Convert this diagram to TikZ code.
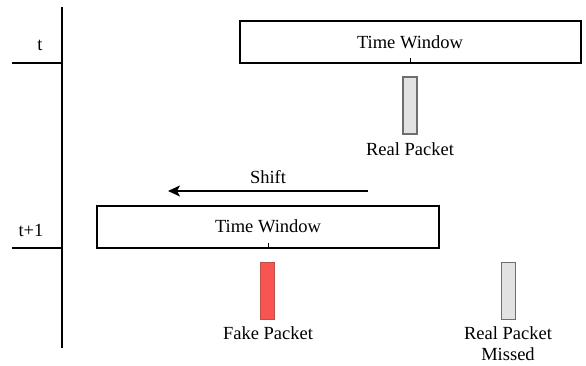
\documentclass[tikz,border=0pt]{standalone}
\usepackage{fontspec}
\setmainfont{Liberation Serif}
\newfontfamily\labelfont{Liberation Serif}
\usetikzlibrary{arrows.meta}
\definecolor{fakefill}{RGB}{248,84,80}
\definecolor{fakeline}{RGB}{190,80,75}
\definecolor{realfill}{RGB}{226,226,226}
\definecolor{realline}{RGB}{110,110,110}
\tikzset{
  lbl/.style={font=\labelfont\fontsize{18.5}{21}\selectfont, inner sep=0pt},
  window/.style={draw, line width=1.4pt, minimum width=#1, minimum height=42pt, inner sep=0pt},
  packet/.style={line width=1.1pt, minimum width=14pt, minimum height=57pt, inner sep=0pt},
  realpkt/.style={packet, draw=realline, fill=realfill},
  fakepkt/.style={packet, draw=fakeline, fill=fakefill},
  axis/.style={line width=1.3pt},
}
\begin{document}
\begin{tikzpicture}[x=1pt,y=-1pt]
\useasboundingbox (0,0) rectangle (586,366);
% time axis
\coordinate (axtop) at (62,7);
\coordinate (axbot) at (62,348);
\draw[axis] (axtop) -- (axbot);
\coordinate (t0a) at (12,63);
\coordinate (t0b) at (62,63);
\coordinate (t1a) at (12,248);
\coordinate (t1b) at (62,248);
\draw[axis] (t0a) -- (t0b);
\draw[axis] (t1a) -- (t1b);
\node[lbl] (tlab) at (40,45) {t};
\node[lbl] (t1lab) at (31,230) {t+1};

% window at time t
\node[window=341pt] (win0) at (410.5,42) {};
\node[lbl] (win0txt) at (410,42) {Time Window};
\coordinate (win0tick) at ([yshift=6pt]win0.south);
\draw[line width=0.9pt] (win0.south) -- (win0tick);
\node[realpkt] (real0) at (410,105.5) {};
\node[lbl] (real0txt) at (410,149) {Real Packet};

% shift
\coordinate (shiftfrom) at (368,191);
\coordinate (shiftto) at (168,191);
\draw[line width=1.3pt, -{Stealth[length=12pt,width=11pt,inset=3pt]}] (shiftfrom) -- (shiftto);
\node[lbl] (shifttxt) at (268,177) {Shift};

% window at time t+1
\node[window=342pt] (win1) at (268,227) {};
\node[lbl] (win1txt) at (268,226) {Time Window};
\coordinate (win1tick) at ([yshift=6pt]win1.south);
\draw[line width=0.9pt] (win1.south) -- (win1tick);
\node[fakepkt] (fake) at (267.5,291) {};
\node[lbl] (faketxt) at (268,333) {Fake Packet};
\node[realpkt] (real1) at (508.5,291) {};
\node[lbl, align=center] (real1txt) at (508,344) {Real Packet\\Missed};
\end{tikzpicture}
\end{document}
